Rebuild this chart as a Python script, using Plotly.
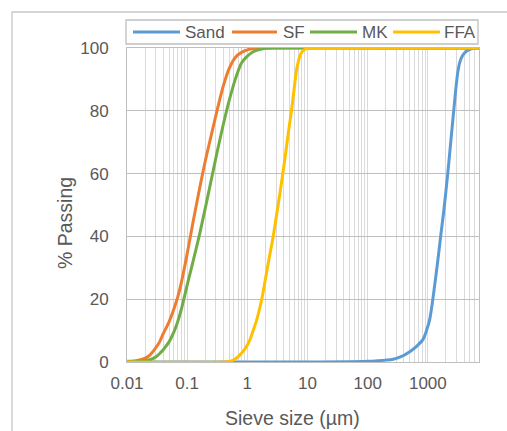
import plotly.graph_objects as go

# Particle size distributions (cumulative % passing vs size in µm)
sand_size = [0.01, 10, 50, 100, 150, 200, 265, 350, 500, 650, 830, 950, 1070, 1200,
             1350, 1500, 1655, 1850, 2140, 2400, 2690, 2900, 3130, 3400, 3700, 4040,
             4500, 5000, 5900, 7000]
sand_pct = [0, 0, 0.05, 0.2, 0.4, 0.6, 0.9, 1.6, 3.3, 5, 7.2, 10, 13.4, 19.5,
            27, 34, 41, 48.5, 60, 70, 80, 86.5, 92, 95.5, 97.3, 98.3,
            99.1, 99.6, 100, 100]

sf_size = [0.01, 0.015, 0.02, 0.024, 0.03, 0.035, 0.04, 0.05, 0.06, 0.07, 0.08, 0.1,
           0.125, 0.16, 0.2, 0.25, 0.32, 0.4, 0.5, 0.63, 0.8, 1.0, 1.25, 1.6, 7000]
sf_pct = [0.2, 0.5, 1.2, 2.2, 4.5, 6.5, 9, 12.8, 16.8, 20.8, 25.3, 34.5,
          44.5, 55, 64, 72, 80.8, 88, 93.5, 97, 98.6, 99.4, 99.85, 100, 100]

mk_size = [0.01, 0.015, 0.02, 0.025, 0.03, 0.035, 0.04, 0.05, 0.06, 0.07, 0.08, 0.1,
           0.125, 0.16, 0.2, 0.25, 0.32, 0.4, 0.5, 0.63, 0.8, 1.0, 1.25, 1.6, 2.1,
           2.6, 7000]
mk_pct = [0.1, 0.2, 0.4, 0.8, 1.6, 2.7, 3.9, 6.4, 9.5, 13, 16.8, 24.5,
          32, 40.5, 49, 57.8, 67.5, 75.8, 83.3, 90, 95.2, 97.4, 98.8, 99.5, 99.9,
          100, 100]

ffa_size = [0.01, 0.4, 0.5, 0.6, 0.75, 0.9, 1.1, 1.25, 1.43, 1.6, 1.8, 2.0, 2.3,
            2.69, 3.1, 3.5, 3.85, 4.3, 4.8, 5.45, 6.0, 6.5, 7.0, 7.5, 8.5, 10, 11,
            7000]
ffa_pct = [0, 0, 0.2, 0.7, 2.2, 4, 7, 10, 13.4, 17, 21.5, 26.5, 33,
           40, 47.5, 54, 59.5, 66, 73, 80.5, 87, 92.5, 95.5, 97.6, 99.2, 99.9, 100,
           100]

series_names = ["Sand", "SF", "MK", "FFA"]
series_colors = ["#5B9BD5", "#ED7D31", "#70AD47", "#FFC000"]

x_tick_labels = ["0.01", "0.1", "1", "10", "100", "1000"]
y_ticks = [0, 20, 40, 60, 80, 100]

TEXT = "#595959"
FONT = "Liberation Sans, Arial, sans-serif"

# Plot-area geometry in pixels (507 x 431 page)
L, R, T, B = 127, 479, 48, 362
W, H = R - L, B - T


def px(x):
    return (x - L) / W


def py(y):
    return (B - y) / H


fig = go.Figure()
data = [(sand_size, sand_pct), (sf_size, sf_pct), (mk_size, mk_pct), (ffa_size, ffa_pct)]
for (xs, ys), name, color in zip(data, series_names, series_colors):
    fig.add_trace(go.Scatter(
        x=xs, y=ys, name=name, mode="lines",
        line=dict(color=color, width=3, shape="spline", smoothing=0.8),
        cliponaxis=False, showlegend=False,
    ))

# Log axis: gridline at every 1..9 x 10^k, labels only on decades
decades = [float(t) for t in x_tick_labels] + [10000.0]
tickvals, ticktext = [], []
for i, d in enumerate(decades):
    for m in range(1, 10):
        v = d * m
        if v > 7000:
            break
        tickvals.append(v)
        ticktext.append(x_tick_labels[i] if m == 1 and i < len(x_tick_labels) else "")

fig.update_xaxes(
    type="log", range=[-2, 3.85],
    tickvals=tickvals, ticktext=ticktext,
    showgrid=True, gridcolor="#DADADA", gridwidth=1,
    showline=True, linecolor="#BFBFBF", linewidth=1, mirror=True,
    ticks="", zeroline=False,
    tickfont=dict(family=FONT, size=17, color=TEXT),
    ticklabelstandoff=6,
)
fig.update_yaxes(
    range=[0, 100], tickvals=y_ticks,
    showgrid=True, gridcolor="#BFBFBF", gridwidth=1,
    showline=True, linecolor="#BFBFBF", linewidth=1, mirror=True,
    ticks="", zeroline=False,
    tickfont=dict(family=FONT, size=17, color=TEXT),
    ticklabelstandoff=14,
)

shapes = []
annotations = []

# Chart-area frame
shapes.append(dict(type="rect", xref="paper", yref="paper",
                   x0=px(12), x1=px(520), y0=py(440), y1=py(12),
                   line=dict(color="#C8C8C8", width=1.3), layer="below"))

# Legend box with line samples
shapes.append(dict(type="rect", xref="paper", yref="paper",
                   x0=px(126), x1=px(478), y0=py(44), y1=py(20),
                   line=dict(color="#BFBFBF", width=1.3), fillcolor="white"))
legend_lines = [(133, 180, 183), (232, 277, 281), (310, 357, 360), (393, 440, 442)]
for (x0, x1, tx), name, color in zip(legend_lines, series_names, series_colors):
    shapes.append(dict(type="line", xref="paper", yref="paper",
                       x0=px(x0), x1=px(x1), y0=py(32), y1=py(32),
                       line=dict(color=color, width=3)))
    annotations.append(dict(xref="paper", yref="paper", x=px(tx), y=py(32),
                            text=name, showarrow=False, xanchor="left", yanchor="middle",
                            font=dict(family=FONT, size=17, color=TEXT)))

# Axis titles
annotations.append(dict(xref="paper", yref="paper", x=px(292), y=py(418),
                        text="Sieve size (µm)", showarrow=False,
                        xanchor="center", yanchor="middle",
                        font=dict(family=FONT, size=19.5, color=TEXT)))
annotations.append(dict(xref="paper", yref="paper", x=px(65), y=py(223),
                        text="% Passing", showarrow=False, textangle=-90,
                        xanchor="center", yanchor="middle",
                        font=dict(family=FONT, size=19.5, color=TEXT)))

fig.update_layout(
    width=507, height=431,
    margin=dict(l=L, r=507 - R, t=T, b=431 - B),
    paper_bgcolor="white", plot_bgcolor="white",
    shapes=shapes, annotations=annotations,
    showlegend=False,
)

fig.write_html("out.html")
